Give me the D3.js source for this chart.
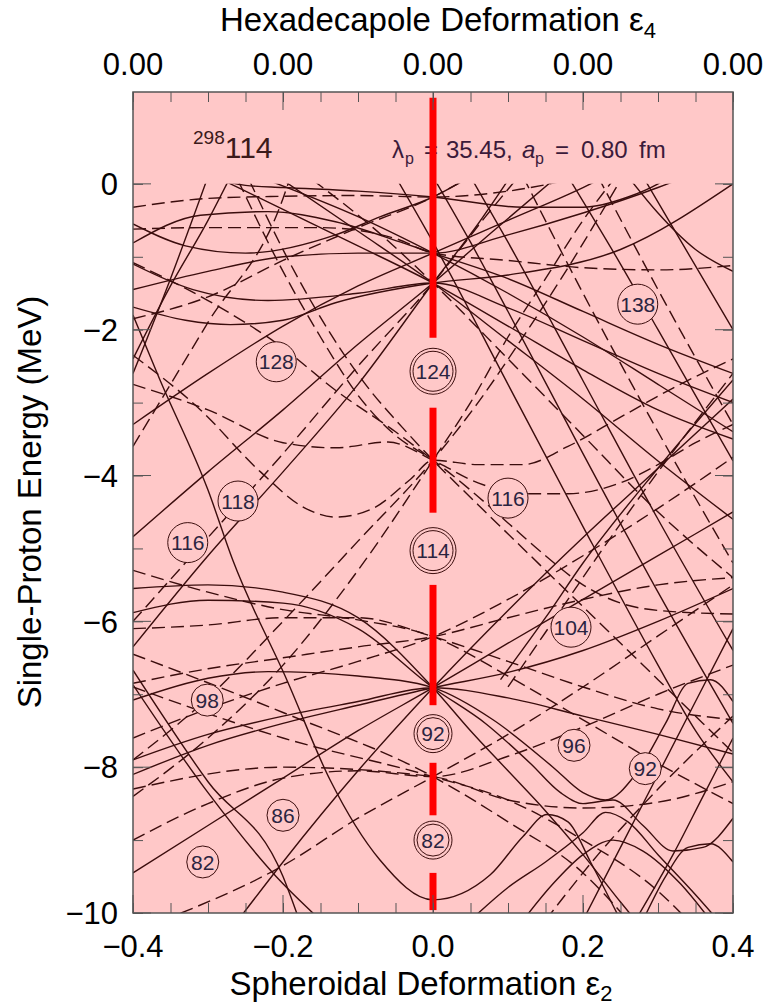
<!DOCTYPE html>
<html>
<head>
<meta charset="utf-8">
<script src="https://cdn.jsdelivr.net/npm/d3@7"></script>
<style>
  body { margin: 0; background: white; }
  text { font-family: "Liberation Sans", Arial, sans-serif; }
</style>
</head>
<body>
<div id="chart"></div>
<script>
// ---- data ----
// levels: [eps2, energy MeV] points; solid = positive parity, dashed = negative
const solidLevels = [
  [[-0.4,-0.81],[-0.31,-0.43],[-0.22,-0.38],[-0.13,-0.52],[-0.04,-0.81],[0,-0.95],[0.1,-1.3],[0.2,-1.75],[0.3,-2.2],[0.4,-2.6]],
  [[-0.4,-0.55],[-0.33,-0.85],[-0.25,-0.95],[-0.13,-0.7],[-0.07,-0.45],[0,-0.18],[0.05,0.1]],
  [[-0.3,0.1],[-0.25,-0.02],[-0.2,-0.05],[-0.1,-0.1],[0,-0.18],[0.12,-0.32],[0.2,-0.32],[0.26,-0.18],[0.3,0.0],[0.33,0.2]],
  [[-0.4,-1.69],[-0.33,-1.87],[-0.27,-1.93],[-0.2,-1.87],[-0.13,-1.63],[0,-1.36],[0.1,-1.25],[0.25,-0.9],[0.4,0.0]],
  [[-0.4,-1.45],[-0.3,-1.2],[-0.2,-1.0],[-0.1,-0.95],[0,-0.95],[0.1,-0.7],[0.2,-0.4],[0.3,-0.05],[0.35,0.15]],
  [[-0.4,-1.1],[-0.32,-1.45],[-0.22,-1.6],[-0.1,-1.5],[0,-1.36],[0.1,-1.7],[0.2,-2.15],[0.3,-2.6],[0.4,-3.0]],
  [[-0.4,-4.84],[-0.3,-3.95],[-0.2,-3.1],[-0.1,-2.2],[0,-1.36],[0.08,-0.65],[0.16,0.05]],
  [[-0.4,-6.35],[-0.3,-5.1],[-0.2,-3.95],[-0.1,-2.75],[0,-1.36],[0.06,-0.55],[0.1,0.05]],
  [[-0.28,0.05],[-0.2,-0.35],[-0.1,-0.85],[0,-1.36],[0.1,-1.95],[0.2,-2.55],[0.3,-3.1],[0.4,-3.5]],
  [[-0.2,0.05],[-0.1,-0.65],[0,-1.36],[0.1,-2.15],[0.2,-2.95],[0.3,-3.8],[0.4,-4.6]],
  [[-0.22,0.05],[-0.1,-0.45],[0,-0.95],[0.1,-1.5],[0.2,-2.1],[0.3,-2.75],[0.4,-3.4]],
  [[-0.4,-3.3],[-0.3,-2.6],[-0.2,-1.95],[-0.1,-1.4],[0,-0.95],[0.1,-0.5],[0.2,-0.05],[0.22,0.05]],
  // i13/2 fan at -6.91
  [[-0.26,-10.1],[-0.2,-9.3],[-0.1,-8.05],[0,-6.91],[0.1,-5.85],[0.2,-4.85],[0.3,-3.9],[0.4,-2.95]],
  [[-0.4,-9.45],[-0.3,-8.8],[-0.2,-8.15],[-0.1,-7.5],[0,-6.91],[0.1,-6.3],[0.2,-5.7],[0.3,-5.1],[0.4,-4.5]],
  [[-0.4,-8.1],[-0.3,-7.7],[-0.2,-7.4],[-0.1,-7.15],[0,-6.91],[0.1,-6.7],[0.2,-6.4],[0.3,-6.0],[0.4,-5.55]],
  [[-0.4,-7.9],[-0.3,-7.55],[-0.2,-7.3],[-0.1,-7.1],[0,-6.91],[0.1,-7.05],[0.2,-7.3],[0.3,-7.55],[0.4,-7.82]],
  [[-0.4,-7.08],[-0.3,-6.78],[-0.22,-6.69],[-0.1,-6.75],[0,-6.91],[0.08,-7.35],[0.16,-8.0],[0.2,-8.35],[0.23,-8.45],[0.27,-8.1],[0.31,-7.4],[0.34,-6.85],[0.37,-6.8],[0.4,-7.1]],
  [[-0.4,-5.88],[-0.3,-5.71],[-0.2,-5.75],[-0.1,-6.1],[0,-6.91],[0.07,-7.4],[0.13,-7.95],[0.17,-8.35],[0.2,-8.5],[0.24,-8.45],[0.28,-8.8],[0.32,-9.15],[0.36,-9.1],[0.4,-8.7]],
  [[-0.4,-5.55],[-0.3,-5.5],[-0.2,-5.6],[-0.1,-5.95],[0,-6.91],[0.05,-7.5],[0.1,-8.05],[0.15,-8.6],[0.2,-9.2],[0.25,-9.85],[0.27,-10.1]],
  // levels entering from below / above
  [[-0.4,-1.8],[-0.364,-2.69],[-0.3,-4.2],[-0.267,-5.16],[-0.195,-6.8],[-0.137,-8.18],[-0.071,-9.27],[0,-9.82],[0.076,-9.48],[0.12,-8.95],[0.152,-8.65],[0.18,-8.75],[0.21,-9.3],[0.25,-10.1]],
  [[-0.4,-6.67],[-0.3,-8.2],[-0.2,-9.5],[-0.18,-10.05]],
  [[-0.4,-6.87],[-0.3,-8.35],[-0.2,-9.6],[-0.155,-10.05]],
  [[0.2,-10.1],[0.25,-9.1],[0.3,-8.1],[0.35,-7.1],[0.4,-6.1]],
  [[0.27,-10.1],[0.32,-9.2],[0.36,-8.4],[0.4,-7.6]],
  [[0.05,-10.1],[0.1,-9.65],[0.15,-9.3],[0.2,-8.9],[0.23,-8.62],[0.26,-8.75],[0.3,-9.2],[0.35,-9.75],[0.38,-10.1]],
  [[0.12,-10.1],[0.16,-9.6],[0.2,-9.2],[0.24,-9.0],[0.28,-9.15],[0.33,-9.6],[0.37,-10.1]],
  [[0.28,-10.1],[0.31,-9.5],[0.34,-9.1],[0.37,-9.05],[0.4,-9.3]],
  [[-0.05,0.1],[0,-0.8],[0.1,-2.75],[0.2,-4.7],[0.3,-6.6],[0.35,-7.5],[0.4,-8.2]],
  [[0,0.1],[0.05,-0.8],[0.1,-1.75],[0.2,-3.7],[0.3,-5.6],[0.4,-7.4]],
  [[0.05,0.1],[0.1,-0.8],[0.2,-2.7],[0.3,-4.6],[0.4,-6.4]],
  [[0.18,0.1],[0.25,-1.1],[0.3,-2.0],[0.35,-2.9],[0.4,-3.8]],
  [[0.28,0.1],[0.34,-0.95],[0.4,-2.0]],
  [[0.09,-6.8],[0.15,-5.95],[0.2,-5.2],[0.3,-3.9],[0.4,-2.69]],
  [[0.26,0.1],[0.3,-0.4],[0.35,-0.9],[0.4,-1.2]],
  [[-0.4,-2.4],[-0.35,-1.4],[-0.3,-0.5],[-0.27,0.1]],
  [[-0.4,-2.6],[-0.35,-1.3],[-0.3,0.1]]
];

const dashedLevels = [
  [[-0.4,-0.32],[-0.3,-0.2],[-0.2,-0.17],[-0.1,-0.16],[0,-0.18],[0.1,-0.1],[0.2,0.1]],
  [[-0.4,-0.62],[-0.3,-0.6],[-0.15,-0.6],[-0.05,-0.75],[0,-0.95],[0.1,-1.05],[0.2,-1.15],[0.3,-1.18],[0.4,-1.12]],
  [[-0.4,-1.85],[-0.3,-1.55],[-0.2,-1.05],[-0.1,-0.6],[0,-0.18],[0.05,0.1]],
  [[-0.4,-6.0],[-0.3,-4.85],[-0.2,-3.7],[-0.1,-2.5],[0,-1.36],[0.07,-0.45],[0.11,0.05]],
  [[-0.16,0.05],[-0.08,-0.6],[0,-1.36],[0.1,-2.4],[0.2,-3.45],[0.3,-4.5],[0.4,-5.4]],
  // fan at -3.79
  [[-0.26,0.05],[-0.2,-1.2],[-0.15,-2.1],[-0.1,-2.9],[-0.05,-3.45],[0,-3.79],[0.05,-4.2],[0.1,-4.65],[0.15,-5.1],[0.2,-5.5],[0.25,-5.75],[0.3,-5.85],[0.4,-5.9]],
  [[-0.245,0.05],[-0.19,-1.1],[-0.14,-2.0],[-0.09,-2.75],[-0.04,-3.35],[0,-3.79],[0.06,-4.4],[0.12,-5.0],[0.18,-5.6],[0.24,-6.2],[0.3,-6.8],[0.36,-7.4],[0.4,-7.8]],
  [[-0.4,-8.4],[-0.3,-7.6],[-0.2,-6.6],[-0.1,-5.3],[0,-3.79],[0.05,-3.0],[0.1,-2.1],[0.15,-1.3],[0.2,-0.5],[0.24,0.05]],
  [[-0.4,-7.9],[-0.3,-7.05],[-0.2,-6.0],[-0.1,-4.9],[0,-3.79],[0.06,-3.0],[0.12,-2.1],[0.18,-1.15],[0.25,0.05]],
  [[-0.4,-2.35],[-0.31,-3.1],[-0.23,-3.95],[-0.17,-4.45],[-0.13,-4.57],[-0.08,-4.45],[-0.03,-4.05],[0,-3.79],[0.06,-3.85],[0.12,-3.85],[0.18,-3.6],[0.25,-3.2],[0.32,-2.8],[0.4,-2.4]],
  [[-0.4,-2.75],[-0.3,-3.1],[-0.2,-3.55],[-0.13,-3.62],[-0.06,-3.54],[0,-3.79],[0.06,-4.1],[0.12,-4.25],[0.18,-4.25],[0.25,-4.1],[0.3,-3.85],[0.35,-3.55],[0.4,-3.3]],
  // f7/2 fan at -6.21
  [[-0.4,-5.3],[-0.3,-5.6],[-0.2,-5.84],[-0.1,-5.98],[0,-6.21],[0.1,-6.75],[0.2,-7.35],[0.3,-7.95],[0.4,-8.5]],
  [[-0.4,-6.1],[-0.3,-6.05],[-0.2,-5.95],[-0.1,-5.95],[0,-6.21],[0.1,-6.55],[0.2,-6.9],[0.3,-7.2],[0.4,-7.35]],
  [[-0.4,-6.85],[-0.3,-6.65],[-0.2,-6.5],[-0.1,-6.35],[0,-6.21],[0.1,-5.95],[0.2,-5.7],[0.3,-5.5],[0.4,-5.4]],
  [[-0.4,-7.6],[-0.3,-7.2],[-0.2,-6.85],[-0.1,-6.55],[0,-6.21],[0.1,-5.7],[0.2,-5.1],[0.3,-4.45],[0.4,-3.75]],
  // h9/2 fan at -8.13
  [[-0.4,-6.45],[-0.2,-7.25],[0,-8.13],[0.1,-8.75],[0.2,-9.45],[0.26,-10.1]],
  [[-0.4,-6.9],[-0.2,-7.6],[0,-8.13],[0.1,-8.45],[0.2,-9.0],[0.3,-9.7],[0.34,-10.1]],
  [[-0.4,-8.3],[-0.2,-8.0],[0,-8.13],[0.1,-8.45],[0.2,-8.56],[0.3,-8.48],[0.4,-8.2]],
  [[-0.4,-9.0],[-0.3,-8.5],[-0.2,-8.15],[-0.1,-8.05],[0,-8.13],[0.1,-7.85],[0.2,-7.45],[0.3,-7.0],[0.4,-6.6]],
  [[-0.36,-10.1],[-0.2,-9.35],[-0.1,-8.7],[0,-8.13],[0.1,-7.55],[0.2,-6.9],[0.3,-6.2],[0.4,-5.5]],
  // others
  [[0.22,0.1],[0.3,-1.45],[0.4,-3.3]],
  [[0.12,0.1],[0.2,-1.5],[0.3,-3.4],[0.4,-5.2]],
  [[0.1,-6.9],[0.16,-6.0],[0.22,-5.1],[0.3,-3.95],[0.4,-2.6]],
  [[0.15,-10.1],[0.22,-9.2],[0.3,-8.3],[0.4,-7.3]],
  [[-0.4,-3.6],[-0.3,-1.9],[-0.2,-0.2],[-0.19,0.1]],
  [[-0.4,-1.08],[-0.3,-1.6],[-0.2,-2.25],[-0.13,-2.83],[-0.05,-3.4],[0,-3.79]]
];

// shell-gap labels
const labelText = ["128","124","138","118","116","114","116","104","98","92","86","82","82","96","92"];
const labelEps  = [-0.209, 0, 0.273, -0.26, -0.327, 0, 0.1, 0.184, -0.301, 0, -0.2, -0.307, 0, 0.188, 0.283];
const labelE    = [-2.44, -2.57, -1.65, -4.35, -4.92, -5.03, -4.31, -6.08, -7.08, -7.54, -8.66, -9.3, -9.0, -7.7, -8.02];
const labelDouble = [false, true, false, false, false, true, false, false, false, true, false, false, true, false, false];

// red spherical line pieces [from, to] in MeV
const redPieces = [[1.18,-2.11],[-3.07,-4.51],[-5.5,-7.15],[-7.94,-8.66],[-9.45,-9.96]];

const xMajor = [-0.4,-0.2,0,0.2,0.4];
const topLabels = ["0.00","0.00","0.00","0.00","0.00"];
const yMajor = [0,-2,-4,-6,-8,-10];

// ---- drawing ----
let w = 766, h = 1008;
let pl = 133, pr = 733, pt = 92, pb = 913;
let ink = "#3b0d0d";

let svg = d3.select("#chart").append("svg")
    .attr("width", w)
    .attr("height", h)
    .style("background", "white");

let x = d3.scaleLinear().domain([-0.4, 0.4]).range([pl, pr]);
let y = d3.scaleLinear().domain([-10, 1.26]).range([pb, pt]);

svg.append("rect")
    .attr("x", pl).attr("y", pt)
    .attr("width", pr-pl).attr("height", pb-pt)
    .attr("fill", "#ffc8c8");

svg.append("clipPath").attr("id", "clip")
  .append("rect")
    .attr("x", pl).attr("y", y(0))
    .attr("width", pr-pl).attr("height", y(-10)-y(0));

let lineMaker = d3.line()
    .x(d => x(d[0]))
    .y(d => y(d[1]))
    .curve(d3.curveMonotoneX);

let levels = svg.append("g").attr("clip-path", "url(#clip)");

levels.selectAll(".solid").data(solidLevels).enter()
  .append("path")
    .attr("class", "solid")
    .attr("d", lineMaker)
    .attr("fill", "none")
    .attr("stroke", ink)
    .attr("stroke-width", 1.4);

levels.selectAll(".dashed").data(dashedLevels).enter()
  .append("path")
    .attr("class", "dashed")
    .attr("d", lineMaker)
    .attr("fill", "none")
    .attr("stroke", ink)
    .attr("stroke-width", 1.4)
    .attr("stroke-dasharray", "13,6");

// nucleus and parameters
let nuc = svg.append("text")
    .attr("x", 193).attr("y", 158)
    .attr("fill", "#3b1a1a");
nuc.append("tspan").attr("font-size", 19).attr("dy", -14).text("298");
nuc.append("tspan").attr("font-size", 30).attr("dy", 14).text("114");

let parColor = "#3b1a3a";
let parts = [
  {t: "λ", x: 392, size: 24, dy: 0},
  {t: "p", x: 405, size: 16, dy: 6},
  {t: "=", x: 424, size: 24, dy: 0},
  {t: "35.45,", x: 446, size: 24, dy: 0},
  {t: "a", x: 522, size: 24, dy: 0, it: true},
  {t: "p", x: 535, size: 16, dy: 6},
  {t: "=", x: 555, size: 24, dy: 0},
  {t: "0.80", x: 581, size: 24, dy: 0},
  {t: "fm", x: 639, size: 24, dy: 0}
];
svg.selectAll(".par").data(parts).enter().append("text")
    .attr("class", "par")
    .attr("x", d => d.x).attr("y", d => 158 + d.dy)
    .attr("font-size", d => d.size)
    .attr("font-style", d => d.it ? "italic" : null)
    .attr("fill", parColor)
    .text(d => d.t);

// red line at spherical shape
svg.selectAll(".red").data(redPieces).enter()
  .append("line")
    .attr("class", "red")
    .attr("x1", x(0)).attr("x2", x(0))
    .attr("y1", d => y(d[0]))
    .attr("y2", d => y(d[1]))
    .attr("stroke", "#ff0000")
    .attr("stroke-width", 7);

// gap labels in circles
let labels = svg.selectAll(".gap").data(labelText).enter()
  .append("g")
    .attr("class", "gap")
    .attr("transform", (d, i) => "translate(" + x(labelEps[i]) + "," + y(labelE[i]) + ")");

labels.append("circle")
    .attr("r", (d, i) => (d.length > 2 ? 20 : 16) + (labelDouble[i] ? 3 : 0))
    .attr("fill", "#ffc8c8")
    .attr("stroke", ink)
    .attr("stroke-width", 1);
labels.filter((d, i) => labelDouble[i]).append("circle")
    .attr("r", d => (d.length > 2 ? 20 : 16))
    .attr("fill", "none")
    .attr("stroke", ink)
    .attr("stroke-width", 1);
labels.append("text")
    .attr("text-anchor", "middle")
    .attr("dy", "0.36em")
    .attr("font-size", 21)
    .attr("fill", "#2b2440")
    .text(d => d);

// axes
let minorX = d3.range(-0.4, 0.401, 0.05).map(v => Math.round(v*100)/100);
let ticksY = d3.range(-10, 0.5, 1);

svg.append("g")
    .attr("transform", "translate(0," + pb + ")")
    .call(d3.axisBottom(x).tickValues(minorX).tickSize(-10).tickFormat(""))
    .call(g => g.select(".domain").remove());
svg.append("g")
    .attr("transform", "translate(0," + pt + ")")
    .call(d3.axisTop(x).tickValues(minorX).tickSize(-10).tickFormat(""))
    .call(g => g.select(".domain").remove());
svg.append("g")
    .attr("transform", "translate(" + pl + ",0)")
    .call(d3.axisLeft(y).tickValues(ticksY).tickSize(-10).tickFormat(""))
    .call(g => g.select(".domain").remove());
svg.append("g")
    .attr("transform", "translate(" + pr + ",0)")
    .call(d3.axisRight(y).tickValues(ticksY).tickSize(-10).tickFormat(""))
    .call(g => g.select(".domain").remove());

// major ticks longer
let majorG = svg.append("g");
majorG.selectAll(".mb").data(xMajor).enter().append("line")
    .attr("x1", d => x(d)).attr("x2", d => x(d))
    .attr("y1", pb).attr("y2", pb - 18);
majorG.selectAll(".mt").data(xMajor).enter().append("line")
    .attr("x1", d => x(d)).attr("x2", d => x(d))
    .attr("y1", pt).attr("y2", pt + 18);
majorG.selectAll(".ml").data(yMajor).enter().append("line")
    .attr("x1", pl).attr("x2", pl + 18)
    .attr("y1", d => y(d)).attr("y2", d => y(d));
majorG.selectAll(".mr").data(yMajor).enter().append("line")
    .attr("x1", pr).attr("x2", pr - 18)
    .attr("y1", d => y(d)).attr("y2", d => y(d));
svg.selectAll(".tick line").attr("stroke", "#555");
majorG.selectAll("line").attr("stroke", "#555").attr("stroke-width", 1);

svg.append("rect")
    .attr("x", pl).attr("y", pt)
    .attr("width", pr-pl).attr("height", pb-pt)
    .attr("fill", "none")
    .attr("stroke", "#555")
    .attr("stroke-width", 1.5);

// tick labels
svg.selectAll(".xl").data(xMajor).enter().append("text")
    .attr("x", d => x(d)).attr("y", 957)
    .attr("text-anchor", "middle")
    .attr("font-size", 31)
    .text(d => d3.format(".1f")(d));

svg.selectAll(".tl").data(xMajor).enter().append("text")
    .attr("x", d => x(d)).attr("y", 75)
    .attr("text-anchor", "middle")
    .attr("font-size", 31)
    .text((d, i) => topLabels[i]);

svg.selectAll(".yl").data(yMajor).enter().append("text")
    .attr("x", 118).attr("y", d => y(d))
    .attr("dy", "0.36em")
    .attr("text-anchor", "end")
    .attr("font-size", 31)
    .text(d => d3.format("d")(d));

// axis titles
let tTop = svg.append("text")
    .attr("x", 438).attr("y", 31)
    .attr("text-anchor", "middle")
    .attr("font-size", 33);
tTop.append("tspan").text("Hexadecapole Deformation ε");
tTop.append("tspan").attr("font-size", 22).attr("dy", 7).text("4");

let tBot = svg.append("text")
    .attr("x", 421).attr("y", 995)
    .attr("text-anchor", "middle")
    .attr("font-size", 33);
tBot.append("tspan").text("Spheroidal Deformation ε");
tBot.append("tspan").attr("font-size", 22).attr("dy", 6).text("2");

svg.append("text")
    .attr("transform", "translate(41,502) rotate(-90)")
    .attr("text-anchor", "middle")
    .attr("font-size", 33)
    .text("Single-Proton Energy (MeV)");
</script>
</body>
</html>
